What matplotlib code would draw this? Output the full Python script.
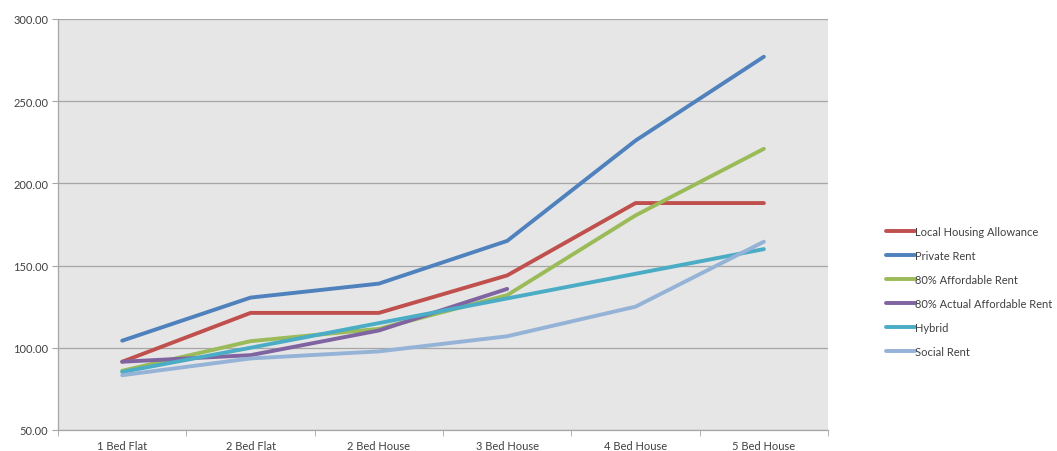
import numpy as np
import matplotlib
matplotlib.use("Agg")
import matplotlib.pyplot as plt
from matplotlib.ticker import FixedLocator, FuncFormatter

categories = ["1 Bed Flat", "2 Bed Flat", "2 Bed House", "3 Bed House", "4 Bed House", "5 Bed House"]

lha = [91.5, 121.2, 121.2, 144.0, 188.0, 188.0]
private_rent = [104.3, 130.5, 139.0, 165.0, 226.0, 277.0]
affordable_80 = [86.0, 104.0, 111.5, 132.0, 180.5, 221.0]
actual_affordable_80 = [91.5, 95.5, 110.5, 135.8, np.nan, np.nan]
hybrid = [85.3, 100.0, 115.0, 130.0, 145.0, 160.0]
social_rent = [83.3, 93.5, 97.8, 107.0, 125.0, 164.5]

series = [
    ("Local Housing Allowance", lha, "#c0504d"),
    ("Private Rent", private_rent, "#4f81bd"),
    ("80% Affordable Rent", affordable_80, "#9bbb59"),
    ("80% Actual Affordable Rent", actual_affordable_80, "#8064a2"),
    ("Hybrid", hybrid, "#4bacc6"),
    ("Social Rent", social_rent, "#95b3d7"),
]

plt.rcParams["font.family"] = ["Lato", "DejaVu Sans"]

fig = plt.figure(figsize=(10.57, 4.52), dpi=100)
ax = fig.add_axes([0.0549, 0.0465, 0.7285, 0.9095])
ax.set_facecolor("#e6e6e6")

x = np.arange(len(categories))
for name, vals, col in series:
    ax.plot(x, vals, color=col, lw=2.8, label=name, solid_capstyle="round",
            solid_joinstyle="round")

ax.set_xlim(-0.5, len(categories) - 0.5)
ax.set_ylim(50, 300)
ax.set_yticks(np.arange(50, 301, 50))
ax.yaxis.set_major_formatter(FuncFormatter(lambda v, p: f"{v:.2f}"))
ax.yaxis.grid(True, color="#a6a6a6", lw=0.9)
ax.set_axisbelow(True)

ax.set_xticks(x)
ax.set_xticklabels(categories)
ax.xaxis.set_minor_locator(FixedLocator(np.arange(-0.5, len(categories), 1.0)))
ax.tick_params(axis="x", which="major", length=0, pad=7)
ax.tick_params(axis="x", which="minor", length=4, color="#a6a6a6")
ax.tick_params(axis="y", length=4, color="#a6a6a6", pad=3)
ax.tick_params(labelsize=8, labelcolor="#404040")

for s in ("top", "right"):
    ax.spines[s].set_visible(False)
for s in ("left", "bottom"):
    ax.spines[s].set_color("#a6a6a6")
    ax.spines[s].set_linewidth(0.9)

leg = fig.legend(loc="center left", bbox_to_anchor=(0.829, 0.353), frameon=False,
                 fontsize=8, handlelength=2.6, handletextpad=0.0,
                 labelspacing=1.18)
for t in leg.get_texts():
    t.set_color("#404040")

fig.savefig("out.png", dpi=100)
